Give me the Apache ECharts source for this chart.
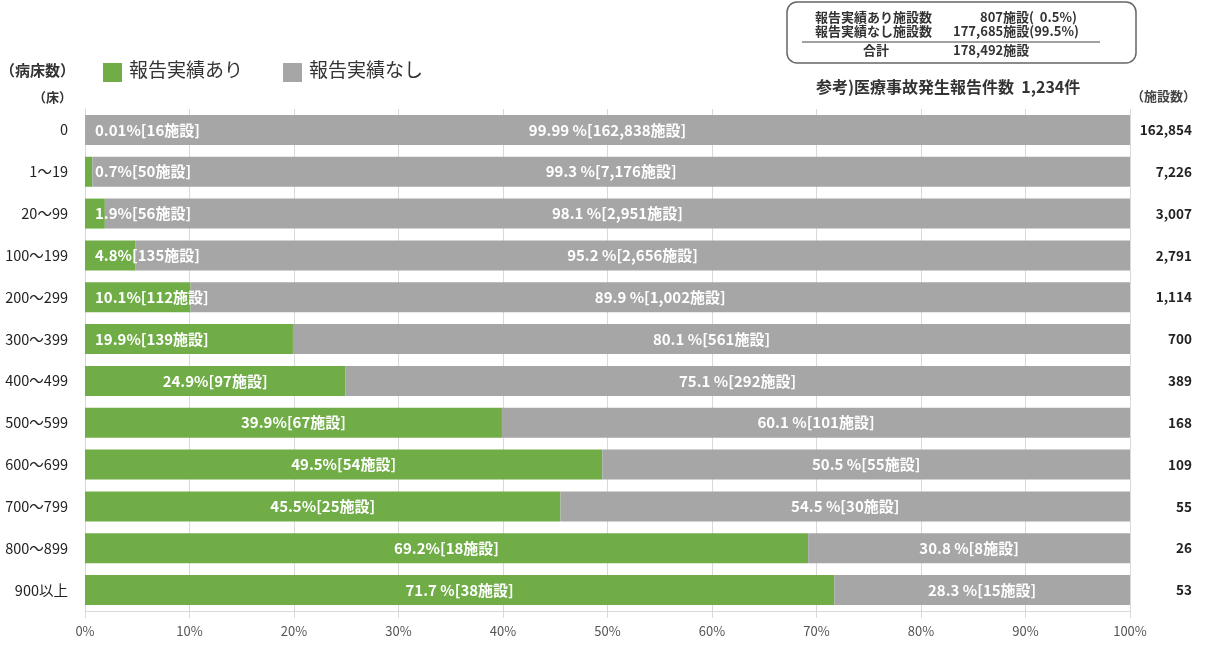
<!DOCTYPE html>
<html><head><meta charset="utf-8">
<script src="https://cdn.jsdelivr.net/npm/echarts@6/dist/echarts.min.js"></script>
<style>html,body{margin:0;padding:0;background:#fff}#c{width:1208px;height:646px}</style>
</head><body><div id="c"></div>
<script>
const categories = ['0','1～19','20～99','100～199','200～299','300～399','400～499','500～599','600～699','700～799','800～899','900以上'];
const reportedPct = [0.01,0.7,1.9,4.8,10.1,19.9,24.9,39.9,49.5,45.5,69.2,71.7];
const reportedCount = [16,50,56,135,112,139,97,67,54,25,18,38];
const notReportedPct = [99.99,99.3,98.1,95.2,89.9,80.1,75.1,60.1,50.5,54.5,30.8,28.3];
const notReportedCount = [162838,7176,2951,2656,1002,561,292,101,55,30,8,15];
const totals = [162854,7226,3007,2791,1114,700,389,168,109,55,26,53];

const fmt = n => n.toLocaleString('en-US');
const FONT = '"Noto Sans CJK JP", "Noto Sans", sans-serif';
const GREEN = '#70ad47', GREY = '#a6a6a6';

const greenData = reportedPct.map((v,i)=>({
  value: v,
  label: v < 21 ? {position:'insideLeft', distance: 10} : {position:'inside'}
}));

const chart = echarts.init(document.getElementById('c'), null, {renderer:'canvas'});
chart.setOption({
  animation:false,
  textStyle:{fontFamily:FONT},
  grid:{left:85, right:78, top:109, bottom:35, containLabel:false},
  legend:{show:false},
  xAxis:{
    type:'value', min:0, max:100, interval:10,
    axisLine:{show:true, lineStyle:{color:'#d9d9d9'}},
    axisTick:{show:true, length:7, lineStyle:{color:'#d9d9d9'}},
    splitLine:{show:true, lineStyle:{color:'#d9d9d9', width:1}},
    axisLabel:{formatter:v=>v+'%', color:'#555', fontSize:13, margin:14, fontFamily:FONT}
  },
  yAxis:[{
    type:'category', data:categories, inverse:true,
    axisLine:{show:true, lineStyle:{color:'#d9d9d9'}},
    axisTick:{show:false},
    axisLabel:{color:'#222', fontSize:14.5, margin:17, fontFamily:FONT}
  },{
    type:'category', data:totals.map(fmt), inverse:true, position:'right',
    axisLine:{show:false}, axisTick:{show:false},
    axisLabel:{color:'#222', fontSize:13.5, fontWeight:'bold', align:'right', margin:62, fontFamily:FONT}
  }],
  series:[{
    name:'報告実績あり', type:'bar', stack:'a', barWidth:30,
    itemStyle:{color:GREEN},
    data: greenData,
    label:{show:true, color:'#fff', fontSize:15, fontWeight:'bold', fontFamily:FONT,
      formatter:p=>{const i=p.dataIndex; const s=(i===11)?' ':''; return reportedPct[i]+s+'%['+fmt(reportedCount[i])+'施設]';}}
  },{
    name:'報告実績なし', type:'bar', stack:'a', barWidth:30,
    itemStyle:{color:GREY},
    data: notReportedPct,
    label:{show:true, position:'inside', color:'#fff', fontSize:15, fontWeight:'bold', fontFamily:FONT,
      formatter:p=>{const i=p.dataIndex; return notReportedPct[i]+' %['+fmt(notReportedCount[i])+'施設]';}}
  }],
  graphic:[
    {type:'text', left:0, top:63, style:{text:'（病床数）', font:'bold 15px '+FONT, fill:'#333'}},
    {type:'text', left:33, top:91, style:{text:'（床）', font:'bold 13px '+FONT, fill:'#333'}},
    {type:'rect', shape:{x:103,y:63,width:19,height:19}, style:{fill:GREEN}},
    {type:'text', left:129, top:60, style:{text:'報告実績あり', font:'19px '+FONT, fill:'#333'}},
    {type:'rect', shape:{x:283,y:63,width:19,height:19}, style:{fill:GREY}},
    {type:'text', left:309, top:60, style:{text:'報告実績なし', font:'19px '+FONT, fill:'#333'}},
    {type:'rect', shape:{x:787,y:2,width:349,height:61,r:10}, style:{fill:'#fff', stroke:'#666', lineWidth:1.5}},
    {type:'text', left:815, top:11, style:{text:'報告実績あり施設数', font:'bold 13px '+FONT, fill:'#333'}},
    {type:'text', left:980, top:11, style:{text:'807施設(  0.5%)', font:'bold 13px '+FONT, fill:'#333'}},
    {type:'text', left:815, top:25, style:{text:'報告実績なし施設数', font:'bold 13px '+FONT, fill:'#333'}},
    {type:'text', left:953, top:25, style:{text:'177,685施設(99.5%)', font:'bold 13px '+FONT, fill:'#333'}},
    {type:'line', shape:{x1:802,y1:42,x2:1100,y2:42}, style:{stroke:'#444', lineWidth:1}},
    {type:'text', left:863, top:44, style:{text:'合計', font:'bold 13px '+FONT, fill:'#333'}},
    {type:'text', left:953, top:44, style:{text:'178,492施設', font:'bold 13px '+FONT, fill:'#333'}},
    {type:'text', left:816, top:79, style:{text:'参考)医療事故発生報告件数  1,234件', font:'bold 16px '+FONT, fill:'#333'}},
    {type:'text', left:1131, top:90, style:{text:'（施設数）', font:'bold 13px '+FONT, fill:'#444'}}
  ]
});
</script></body></html>
